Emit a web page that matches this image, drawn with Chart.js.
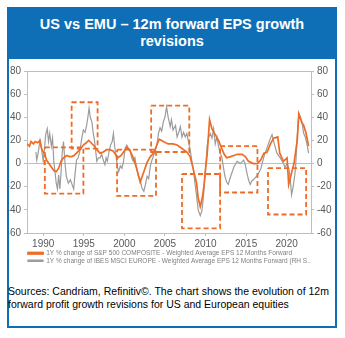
<!DOCTYPE html>
<html>
<head>
<meta charset="utf-8">
<script src="https://cdn.jsdelivr.net/npm/chart.js@4/dist/chart.umd.min.js"></script>
<style>
  html, body { margin:0; padding:0; background:#fff; }
  body { width:345px; height:338px; position:relative; overflow:hidden; font-family:"Liberation Sans", Arial, sans-serif; }
  #frame { position:absolute; left:7px; top:7px; width:326px; height:317px; border:2px solid #0F6FB6; }
  #title { position:absolute; left:7px; top:7px; width:330px; height:52px; background:#0F6FB6; color:#fff;
           font-weight:bold; font-size:14.5px; line-height:17px; text-align:center; box-sizing:border-box; padding-top:9px; }
  #wrap { position:absolute; left:0; top:60px; width:345px; height:215px; }
  #src { position:absolute; left:8px; top:285px; width:334px; font-size:10.5px; line-height:12.5px; color:#000; white-space:nowrap; }
</style>
</head>
<body>
<div id="frame"></div>
<div id="title">US vs EMU – 12m forward EPS growth<br>revisions</div>
<div id="wrap"><canvas id="c" width="345" height="215"></canvas></div>
<div id="src">Sources: Candriam, Refinitiv©. The chart shows the evolution of 12m<br>forward profit growth revisions for US and European equities</div>
<script>
// ---- Data ----
const seriesLabels = [
  "1Y % change of S&P 500 COMPOSITE - Weighted Average EPS 12 Months Forward",
  "1Y % change of IBES MSCI EUROPE - Weighted Average EPS 12 Months Forward (RH S..."
];
const usYears = [1988.0,1988.3,1988.5,1988.8,1989.0,1989.3,1989.6,1989.8,1990.0,1990.2,1990.4,1990.7,1991.0,1991.3,1991.6,1991.9,1992.2,1992.5,1992.9,1993.2,1993.5,1993.8,1994.1,1994.5,1994.95,1995.3,1995.6,1995.9,1996.3,1996.6,1997.0,1997.4,1997.8,1998.2,1998.6,1998.9,1999.2,1999.6,1999.9,2000.3,2000.7,2001.1,2001.5,2001.95,2002.4,2002.8,2003.2,2003.6,2004.0,2004.3,2004.8,2005.4,2006.0,2006.5,2007.1,2007.7,2008.1,2008.5,2008.9,2009.1,2009.35,2009.6,2009.8,2010.0,2010.2,2010.5,2010.8,2011.2,2011.6,2012.0,2012.3,2012.6,2013.1,2013.5,2013.9,2014.5,2014.9,2015.3,2015.9,2016.4,2016.8,2017.2,2017.6,2018.0,2018.4,2018.9,2019.15,2019.6,2020.05,2020.25,2020.5,2020.9,2021.3,2021.5,2021.9,2022.1,2022.4,2022.7];
const usValues = [17,15,19,17,19,18,20,13,10,8,3,0,-3,-6,-7,-4,2,5,7,6,6,7,9,12,16,18,20,18,15,12,9,10,12,12,11,8,5,7,10,14,11,5,-4,-16,-7,1,6,9,16,21,19,17,17,16,13,10,6,-5,-17,-30,-37,-30,-20,-5,8,38,30,25,20,13,8,5,6,7,8,8,6,2,0,0,3,9,10,17,22,23,9,2,5,-18,-11,0,20,43,35,33,26,15];
const euYears = [1989.1,1989.2,1989.35,1989.6,1989.8,1990.0,1990.15,1990.3,1990.5,1990.65,1990.8,1991.0,1991.15,1991.3,1991.45,1991.6,1991.75,1991.9,1992.05,1992.2,1992.35,1992.5,1992.7,1992.85,1993.1,1993.35,1993.55,1993.75,1993.95,1994.1,1994.3,1994.5,1994.75,1994.95,1995.15,1995.35,1995.5,1995.65,1995.8,1996.0,1996.15,1996.3,1996.45,1996.6,1996.8,1997.0,1997.2,1997.4,1997.6,1997.75,1997.9,1998.1,1998.3,1998.5,1998.65,1998.8,1999.0,1999.15,1999.3,1999.5,1999.7,1999.9,2000.1,2000.3,2000.5,2000.7,2000.9,2001.1,2001.3,2001.5,2001.7,2001.95,2002.15,2002.4,2002.6,2002.8,2003.0,2003.2,2003.4,2003.6,2003.8,2004.0,2004.2,2004.4,2004.6,2004.8,2005.0,2005.2,2005.4,2005.65,2005.8,2006.0,2006.3,2006.5,2006.7,2006.9,2007.1,2007.3,2007.5,2007.7,2007.9,2008.1,2008.3,2008.5,2008.7,2008.9,2009.1,2009.35,2009.55,2009.75,2010.0,2010.2,2010.4,2010.6,2010.8,2011.0,2011.2,2011.4,2011.6,2011.8,2012.0,2012.2,2012.4,2012.6,2012.8,2013.1,2013.5,2013.9,2014.3,2014.7,2014.9,2015.1,2015.3,2015.5,2015.7,2015.9,2016.4,2016.8,2017.2,2017.6,2018.0,2018.2,2018.4,2018.8,2019.2,2019.6,2019.8,2020.05,2020.3,2020.5,2020.6,2020.8,2021.0,2021.1,2021.3,2021.5,2021.7,2021.9,2022.1,2022.3,2022.5,2022.7];
const euValues = [10,3,8,20,12,2,12,25,30,19,26,15,22,2,-7,-17,-22,-10,-22,-7,10,19,-1,-11,-17,-14,-18,-22,-7,3,5,10,22,29,27,33,40,48,40,36,27,21,12,2,5,5,8,3,-1,5,2,10,16,19,26,15,5,-3,-7,-2,-4,2,13,16,13,12,5,2,5,-3,-10,-14,-21,-24,-18,-11,-13,-2,3,7,11,16,26,31,28,36,40,49,40,32,38,29,33,23,27,32,23,27,23,26,19,12,3,-5,-17,-28,-40,-45,-41,-28,-5,15,23,26,22,30,17,23,15,9,6,-3,-11,-16,-18,-11,-3,2,0,3,-1,-8,-14,-18,-15,-14,-10,-5,6,14,22,25,19,9,5,0,-3,0,-5,-18,-27,-20,-10,-3,23,43,40,35,26,23,17,9];
// dashed highlight boxes: [start year, end year] x [low, high]
const boxStart = [1990.2, 1993.5, 1999.1, 2003.3, 2007.1, 2011.8, 2017.7];
const boxEnd   = [1994.95, 1996.7, 2003.9, 2008.0, 2011.8, 2016.4, 2022.4];
const boxLow   = [-26, 13, -28, 10, -56, -25, -44];
const boxHigh  = [14, 53, 12, 50, -9, 15, -4];
const xTicks = [1990, 1995, 2000, 2005, 2010, 2015, 2020];
const yMin = -60, yMax = 80, yStep = 20;

// ---- Build ----
const ORANGE = '#EE6C25', GREY = '#9C9C9C', AXIS = '#BFBFBF', TXT = '#595959';
const toPts = (xs, ys) => xs.map((x, i) => ({x, y: ys[i]}));
const datasets = [
  { label: seriesLabels[0], data: toPts(usYears, usValues), borderColor: ORANGE, backgroundColor: ORANGE,
    borderWidth: 1.7, pointRadius: 0, yAxisID: 'y', order: 1 },
  { label: seriesLabels[1], data: toPts(euYears, euValues), borderColor: GREY, backgroundColor: GREY,
    borderWidth: 1.2, pointRadius: 0, yAxisID: 'y2', order: 2 }
];
boxStart.forEach((x0, i) => {
  const x1 = boxEnd[i], lo = boxLow[i], hi = boxHigh[i];
  datasets.push({ label: 'box' + i, data: [{x:x0,y:hi},{x:x1,y:hi},{x:x1,y:lo},{x:x0,y:lo},{x:x0,y:hi}],
    borderColor: ORANGE, borderWidth: 1.8, borderDash: [5, 3], pointRadius: 0, fill: false, yAxisID: 'y', order: 0 });
});
const tickFont = { family: '"Liberation Sans", Arial, sans-serif', size: 10 };
new Chart(document.getElementById('c'), {
  type: 'line',
  data: { datasets },
  options: {
    responsive: false, animation: false,
    layout: { padding: { top: 11, bottom: 1, left: 0, right: 0 } },
    plugins: {
      tooltip: { enabled: false },
      legend: {
        position: 'bottom', align: 'start', fullSize: false,
        labels: { filter: (it) => it.datasetIndex < 2, boxWidth: 15, boxHeight: 1.5, padding: 1,
          color: '#7F7F7F', font: { family: '"Liberation Sans", Arial, sans-serif', size: 6.5 } }
      }
    },
    scales: {
      x: { type: 'linear', min: 1988, max: 2023, position: 'bottom',
        afterBuildTicks: (s) => { s.ticks = xTicks.map(v => ({ value: v })); },
        ticks: { color: TXT, font: tickFont, padding: 2, maxRotation: 0, callback: (v) => String(v) },
        grid: { drawOnChartArea: false, tickLength: 3, tickColor: AXIS },
        border: { color: AXIS },
        afterFit: (s) => { s.height = 16; } },
      xTop: { type: 'linear', min: 1988, max: 2023, position: 'top',
        ticks: { display: false }, grid: { display: false, drawTicks: false }, border: { color: AXIS },
        afterFit: (s) => { s.height = 0; } },
      y: { position: 'left', min: yMin, max: yMax,
        ticks: { stepSize: yStep, color: TXT, font: tickFont, padding: 3 },
        grid: { color: (c) => c.tick && c.tick.value === 0 ? AXIS : 'rgba(0,0,0,0)', tickLength: 3, tickColor: AXIS },
        border: { color: AXIS },
        afterFit: (s) => { s.width = 27; } },
      y2: { position: 'right', min: yMin, max: yMax,
        ticks: { stepSize: yStep, color: TXT, font: tickFont, padding: 3 },
        grid: { drawOnChartArea: false, tickLength: 3, tickColor: AXIS },
        border: { color: AXIS },
        afterFit: (s) => { s.width = 34; } }
    }
  }
});
</script>
</body>
</html>
